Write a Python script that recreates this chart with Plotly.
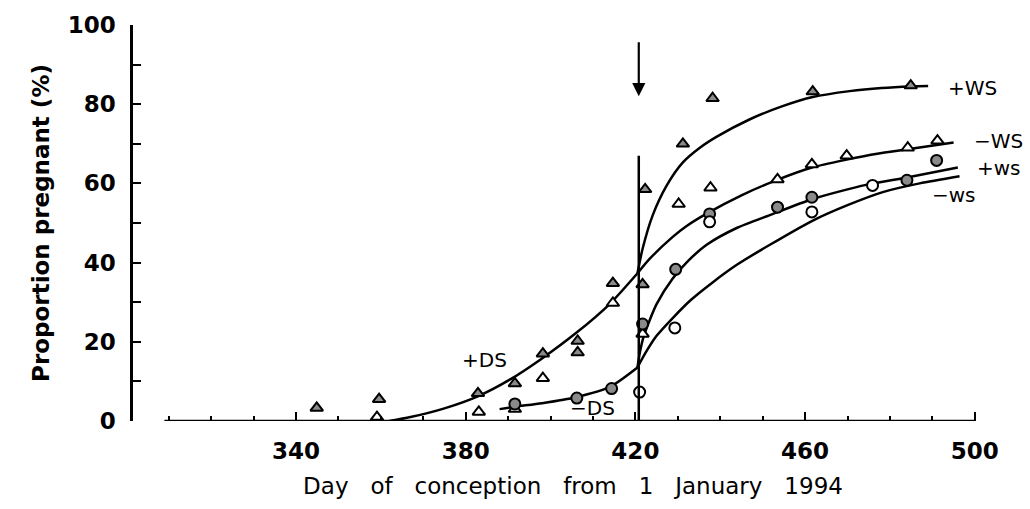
import plotly.graph_objects as go

# ---- fitted curves (day, % pregnant) ----
plus_ds_x = [362, 367, 375, 383, 390.5, 398, 406, 414, 420.5]
plus_ds_y = [0, 1, 3.2, 6.3, 10.5, 15.8, 22.2, 29.6, 37.3]

minus_ds_x = [388, 391.6, 398, 406, 414, 420.5]
minus_ds_y = [3.0, 3.6, 4.5, 6.0, 8.6, 13.5]

plus_WS_x = [420.5, 421.7, 424.1, 427.4, 431.2, 435.2, 439.2, 447, 454.7, 461.8, 470.5, 478, 485, 489]
plus_WS_y = [37.3, 43.5, 52, 59.5, 65.3, 69, 71.8, 76.2, 79.5, 81.8, 83.3, 84.1, 84.5, 84.6]

minus_WS_x = [420.5, 423.4, 428.8, 432, 437, 445, 453, 461.6, 469.8, 477, 484.2, 495]
minus_WS_y = [37.3, 41, 46.5, 49.2, 52.5, 57, 60.7, 64, 66, 67.5, 68.6, 70.3]

plus_ws_x = [420.5, 421, 422, 425, 428.8, 432.5, 436.8, 444, 451.7, 461.6, 470, 476, 484, 496]
plus_ws_y = [13.5, 17, 21.5, 29.5, 36, 40.5, 44.5, 48.8, 52, 56, 58.5, 60, 61.5, 64]

minus_ws_x = [420.5, 422, 425, 428.8, 433, 438.2, 444, 451.7, 461.6, 470, 478.3, 487, 496.4]
minus_ws_y = [13.5, 16.5, 21.5, 26, 30.5, 35, 39.5, 44.5, 50.5, 54.5, 57.8, 60, 61.8]

# ---- observations ----
tri_solid_x = [344.9, 359.6, 382.9, 391.6, 398.2, 406.4, 406.4, 414.7, 421.7,
               422.3, 431.2, 438.2, 461.8, 484.9]
tri_solid_y = [3.3, 5.5, 7.0, 9.5, 17.0, 20.2, 17.3, 34.8, 34.5,
               58.5, 70.0, 81.5, 83.2, 84.7]

tri_open_x = [359.1, 383.1, 391.6, 398.2, 414.7, 421.7, 430.2, 437.7, 453.5,
              461.6, 469.8, 484.2, 491.2]
tri_open_y = [1.0, 2.3, 3.0, 10.8, 29.8, 22.0, 54.8, 58.9, 61.0,
              64.8, 67.0, 69.0, 70.8]

dot_solid_x = [391.6, 406.2, 414.4, 421.7, 429.5, 437.5, 453.5, 461.6, 484.0, 491.0]
dot_solid_y = [4.3, 5.8, 8.2, 24.5, 38.3, 52.3, 54.0, 56.5, 60.8, 65.8]

dot_open_x = [421.0, 429.3, 437.5, 461.6, 475.9]
dot_open_y = [7.3, 23.5, 50.3, 52.8, 59.5]

# curve labels: (text, day, value)
curve_labels = [("+DS", 384.5, 15.3), ("\u2212DS", 410.0, 3.3),
                ("+WS", 499.5, 84.0), ("\u2212WS", 505.5, 70.8),
                ("+ws", 505.8, 64.0), ("\u2212ws", 495.2, 57.0)]

x_ticks = [340, 380, 420, 460, 500]
y_ticks = [0, 20, 40, 60, 80, 100]

switch_day = 420.8
switch_top = 67

fig = go.Figure()

for cx, cy in [(plus_ds_x, plus_ds_y), (minus_ds_x, minus_ds_y),
               (plus_WS_x, plus_WS_y), (minus_WS_x, minus_WS_y),
               (plus_ws_x, plus_ws_y), (minus_ws_x, minus_ws_y)]:
    fig.add_trace(go.Scatter(x=cx, y=cy, mode="lines",
                             line=dict(color="black", width=2.5, shape="spline", smoothing=0.7),
                             hoverinfo="skip", showlegend=False))

def markers(x, y, symbol, fill):
    fig.add_trace(go.Scatter(x=x, y=y, mode="markers", showlegend=False,
                             cliponaxis=False,
                             marker=dict(symbol=symbol, size=11, color=fill,
                                         line=dict(color="black", width=2))))

markers(tri_solid_x, tri_solid_y, "triangle-up", "#8a8a8a")
markers(tri_open_x, tri_open_y, "triangle-up", "white")
markers(dot_solid_x, dot_solid_y, "circle", "#8a8a8a")
markers(dot_open_x, dot_open_y, "circle", "white")

# switch-over line and arrow
fig.add_shape(type="line", x0=switch_day, x1=switch_day, y0=0, y1=switch_top,
              xref="x", yref="y", line=dict(color="black", width=2.5))
fig.add_annotation(x=switch_day, y=82, ax=switch_day, ay=96, xref="x", yref="y",
                   axref="x", ayref="y", showarrow=True, arrowhead=2,
                   arrowsize=1.2, arrowwidth=2.2, arrowcolor="black", text="")

# x axis baseline
fig.add_shape(type="line", x0=309, x1=500, y0=0, y1=0, xref="x", yref="y",
              line=dict(color="black", width=2.5))

for txt, dx, dy in curve_labels:
    fig.add_annotation(x=dx, y=dy, xref="x", yref="y", text=txt, showarrow=False,
                       font=dict(family="DejaVu Sans", size=20, color="black"))

gap = "\u00a0\u00a0 "
fig.update_layout(
    width=1030, height=509,
    margin=dict(l=133, r=17, t=21, b=88),
    paper_bgcolor="white", plot_bgcolor="white",
    xaxis=dict(range=[301.6, 509], showgrid=False, zeroline=False, showline=False,
               tickvals=x_ticks, ticktext=[str(v) for v in x_ticks],
               ticks="inside", ticklen=9, tickwidth=2, tickcolor="black",
               minor=dict(tick0=310, dtick=10, ticks="inside", ticklen=5,
                          tickwidth=2, tickcolor="black"),
               tickfont=dict(family="DejaVu Sans", size=23, color="black", weight="bold"),
               ticklabelstandoff=14,
               title=dict(text=gap.join(["Day", "of", "conception", "from", "1", "January", "1994"]),
                          font=dict(family="DejaVu Sans", size=23, color="black"),
                          standoff=14)),
    yaxis=dict(range=[0, 100], showgrid=False, zeroline=False, showline=True,
               linecolor="black", linewidth=2.5,
               tickvals=y_ticks, ticktext=[str(v) for v in y_ticks],
               ticks="inside", ticklen=8, tickwidth=2, tickcolor="black",
               minor=dict(dtick=10, ticks="inside", ticklen=8, tickwidth=2,
                          tickcolor="black"),
               tickfont=dict(family="DejaVu Sans", size=23, color="black", weight="bold"),
               ticklabelstandoff=10,
               title=dict(text="Proportion pregnant (%)",
                          font=dict(family="DejaVu Sans", size=23, color="black", weight="bold"),
                          standoff=12)),
)

fig.write_html("out.html")
